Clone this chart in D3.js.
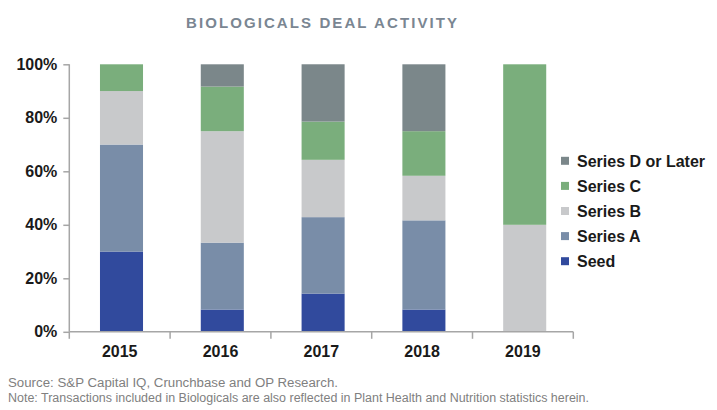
<!DOCTYPE html>
<html><head><meta charset="utf-8">
<script src="https://cdn.jsdelivr.net/npm/d3@7"></script>
<style>body{margin:0;background:#fff;}svg{display:block;font-family:"Liberation Sans",Arial,sans-serif;}</style>
</head><body>
<svg id="c" width="717" height="410"></svg>
<script>
const years = ["2015","2016","2017","2018","2019"];
const seriesNames = ["Seed","Series A","Series B","Series C","Series D or Later"];
const seed    = [0.30, 0.0833, 0.1429, 0.0833, 0];
const seriesA = [0.40, 0.25,   0.2857, 0.3333, 0];
const seriesB = [0.20, 0.4167, 0.2143, 0.1667, 0.40];
const seriesC = [0.10, 0.1667, 0.1429, 0.1667, 0.60];
const seriesD = [0,    0.0833, 0.2143, 0.25,   0];
const yTicks = [0, 0.2, 0.4, 0.6, 0.8, 1.0];
const colors = ["#314a9d","#798da8","#c8c9cb","#7aae7c","#7b878a"];

const rows = years.map((y,i)=>({year:y,"Seed":seed[i],"Series A":seriesA[i],"Series B":seriesB[i],"Series C":seriesC[i],"Series D or Later":seriesD[i]}));
const svg = d3.select("#c");
const m = {l:69.3, r:573.3, t:64.3, b:331.8};
const xCat = d3.scaleBand().domain(years).range([m.l, m.r]).padding(0);
const x = d3.scaleBand().domain(years).range([m.l+1.8, m.r+1.8]).paddingInner(0.573).paddingOuter(0.2865);
const y = d3.scaleLinear().domain([0,1]).range([m.b, m.t]);
const color = d3.scaleOrdinal().domain(seriesNames).range(colors);
const stack = d3.stack().keys(seriesNames)(rows);

svg.append("text").attr("x",186).attr("y",27.5).attr("text-anchor","start")
  .attr("font-size",15).attr("font-weight","bold").attr("fill","#7a8692")
  .attr("textLength",271).attr("lengthAdjust","spacing").text("BIOLOGICALS DEAL ACTIVITY");

svg.append("g").selectAll("g").data(stack).join("g").attr("fill",d=>color(d.key))
  .selectAll("rect").data(d=>d).join("rect")
  .attr("x",d=>x(d.data.year)).attr("width",x.bandwidth())
  .attr("y",d=>y(d[1])).attr("height",d=>y(d[0])-y(d[1]));

// y axis
const ya = svg.append("g").attr("transform",`translate(${m.l},0)`)
  .call(d3.axisLeft(y).tickValues(yTicks).tickFormat(d3.format(".0%")).tickSize(6).tickPadding(6));
ya.select(".domain").attr("stroke","#a6a6a6").attr("stroke-width",1.5).attr("d",`M0,${m.t}V${m.b}`);
ya.selectAll(".tick line").attr("stroke","#a6a6a6").attr("stroke-width",1.5);
ya.selectAll(".tick text").attr("font-size",16).attr("font-weight","bold").attr("fill","#1a1a1a")
  .attr("font-family","Liberation Sans, Arial, sans-serif");

// x axis
const xa = svg.append("g").attr("transform",`translate(0,${m.b})`)
  .call(d3.axisBottom(xCat).tickSize(0).tickPadding(0));
xa.select(".domain").attr("stroke","#a6a6a6").attr("stroke-width",1.5).attr("d",`M${m.l},0H${m.r}`);
xa.selectAll(".tick text").attr("font-size",16).attr("font-weight","bold").attr("fill","#1a1a1a")
  .attr("font-family","Liberation Sans, Arial, sans-serif").attr("dy",null).attr("y",25);
const bounds = years.map(d=>xCat(d)).concat([m.r]);
xa.selectAll("line.sep").data(bounds).join("line").attr("class","sep")
  .attr("x1",d=>d).attr("x2",d=>d).attr("y1",0).attr("y2",7)
  .attr("stroke","#a6a6a6").attr("stroke-width",1.5);

// legend
const lg = svg.append("g");
const legendOrder = seriesNames.slice().reverse();
legendOrder.forEach((k,i)=>{
  const cy = 160.8 + i*25.1;
  lg.append("rect").attr("x",561).attr("y",cy-4).attr("width",8).attr("height",8).attr("fill",color(k));
  lg.append("text").attr("x",577).attr("y",cy+5.7).attr("font-size",16).attr("font-weight","bold")
    .attr("fill","#1a1a1a").text(k);
});

// footnotes
svg.append("text").attr("x",8).attr("y",387).attr("font-size",12).attr("fill","#808080")
  .attr("textLength",330).attr("lengthAdjust","spacingAndGlyphs")
  .text("Source: S&P Capital IQ, Crunchbase and OP Research.");
svg.append("text").attr("x",8).attr("y",402).attr("font-size",12).attr("fill","#808080")
  .attr("textLength",581).attr("lengthAdjust","spacingAndGlyphs")
  .text("Note: Transactions included in Biologicals are also reflected in Plant Health and Nutrition statistics herein.");
</script>
</body></html>
